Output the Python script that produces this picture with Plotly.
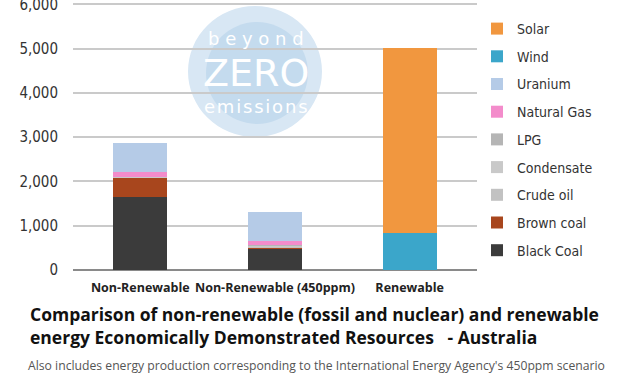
import plotly.graph_objects as go

categories = ["Non-Renewable", "Non-Renewable (450ppm)", "Renewable"]

black_coal = [1650, 490, 0]
brown_coal = [430, 25, 0]
crude_oil = [15, 20, 0]
condensate = [10, 10, 0]
lpg = [5, 10, 0]
natural_gas = [105, 100, 0]
uranium = [650, 658, 0]
wind = [0, 0, 826]
solar = [0, 0, 4196]

series = [
    ("Black Coal", black_coal, "#3b3b3b"),
    ("Brown coal", brown_coal, "#a8461d"),
    ("Crude oil", crude_oil, "#c2c2c2"),
    ("Condensate", condensate, "#c9c9c9"),
    ("LPG", lpg, "#b5b5b5"),
    ("Natural Gas", natural_gas, "#f38ccb"),
    ("Uranium", uranium, "#b5cbe7"),
    ("Wind", wind, "#3ba6ca"),
    ("Solar", solar, "#f1973f"),
]

y_ticks = [0, 1000, 2000, 3000, 4000, 5000, 6000]

W, H = 620, 377
L, R, T, B = 73, 143, 3, 107
pw, ph = W - L - R, H - T - B


def px(x):
    return (x - L) / pw


def py(y):
    return (H - B - y) / ph


fig = go.Figure()
n = len(series)
for i, (name, vals, col) in enumerate(series):
    fig.add_trace(go.Bar(
        x=categories, y=vals, name=name, legendgroup=name, legendrank=n - i,
        marker=dict(color=col, line=dict(width=0)),
    ))

fig.update_layout(
    width=W, height=H,
    margin=dict(l=L, r=R, t=T, b=B, autoexpand=False),
    barmode="stack", bargap=0.6,
    paper_bgcolor="white", plot_bgcolor="white",
    font=dict(family="DejaVu Sans Condensed, Roboto, sans-serif", color="#333"),
    showlegend=True,
    legend=dict(
        x=1.0, xanchor="left", y=py(13), yanchor="top",
        traceorder="grouped", tracegroupgap=6.5, maxheight=370,
        font=dict(size=14, color="#333", family="DejaVu Sans Condensed, Roboto, sans-serif"),
        bgcolor="rgba(0,0,0,0)",
    ),
    xaxis=dict(
        tickfont=dict(family="Open Sans, sans-serif", size=12.5, color="#222"),
        tickvals=categories,
        ticktext=["<b>%s</b>" % c for c in categories],
        showline=False, ticks="outside", ticklen=6, tickcolor="rgba(0,0,0,0)",
        tickangle=0, automargin=False,
    ),
    yaxis=dict(
        range=[0, 6030], tickvals=y_ticks, tickformat=",d",
        showgrid=True, gridcolor="#cacaca", gridwidth=1.5,
        zeroline=True, zerolinecolor="#8a8a8a", zerolinewidth=2,
        tickfont=dict(size=15, color="#333"),
        ticks="", ticklabelstandoff=14, automargin=False,
        ticklabeloverflow="allow",
    ),
    shapes=[
        dict(type="circle", xref="paper", yref="paper", layer="below",
             x0=px(188), x1=px(322), y0=py(137), y1=py(6),
             fillcolor="#d8e7f4", line=dict(width=0)),
        dict(type="circle", xref="paper", yref="paper", layer="below",
             x0=px(206), x1=px(308), y0=py(124), y1=py(22),
             fillcolor="#c4dbee", line=dict(width=0)),
    ],
)

annotations = [
    dict(text="b e y o n d", x=px(256), y=py(38), size=18),
    dict(text="ZERO", x=px(256), y=py(73), size=38),
    dict(text="e\u200am\u200ai\u200as\u200as\u200ai\u200ao\u200an\u200as", x=px(256), y=py(107), size=18),
]
for a in annotations:
    fig.add_annotation(
        text=a["text"], x=a["x"], y=a["y"], xref="paper", yref="paper",
        showarrow=False, xanchor="center", yanchor="middle",
        font=dict(family="DejaVu Sans, sans-serif", size=a["size"], color="white"),
    )

fig.add_annotation(
    text="<b>Comparison of non-renewable (fossil and nuclear) and renewable<br>energy Economically Demonstrated Resources   - Australia</b>",
    x=px(28), y=py(325.5), xref="paper", yref="paper", showarrow=False,
    xanchor="left", yanchor="middle", align="left",
    font=dict(family="Open Sans, sans-serif", size=17.5, color="#111"),
)
fig.add_annotation(
    text="Also includes energy production corresponding to the International Energy Agency's 450ppm scenario",
    x=px(26), y=py(365), xref="paper", yref="paper", showarrow=False,
    xanchor="left", yanchor="middle", align="left",
    font=dict(family="Open Sans, sans-serif", size=12.2, color="#555"),
)

fig.write_html(
    "out.html",
    config={"displayModeBar": False},
    post_script="document.body.style.margin='0';document.body.style.overflow='hidden';",
)
